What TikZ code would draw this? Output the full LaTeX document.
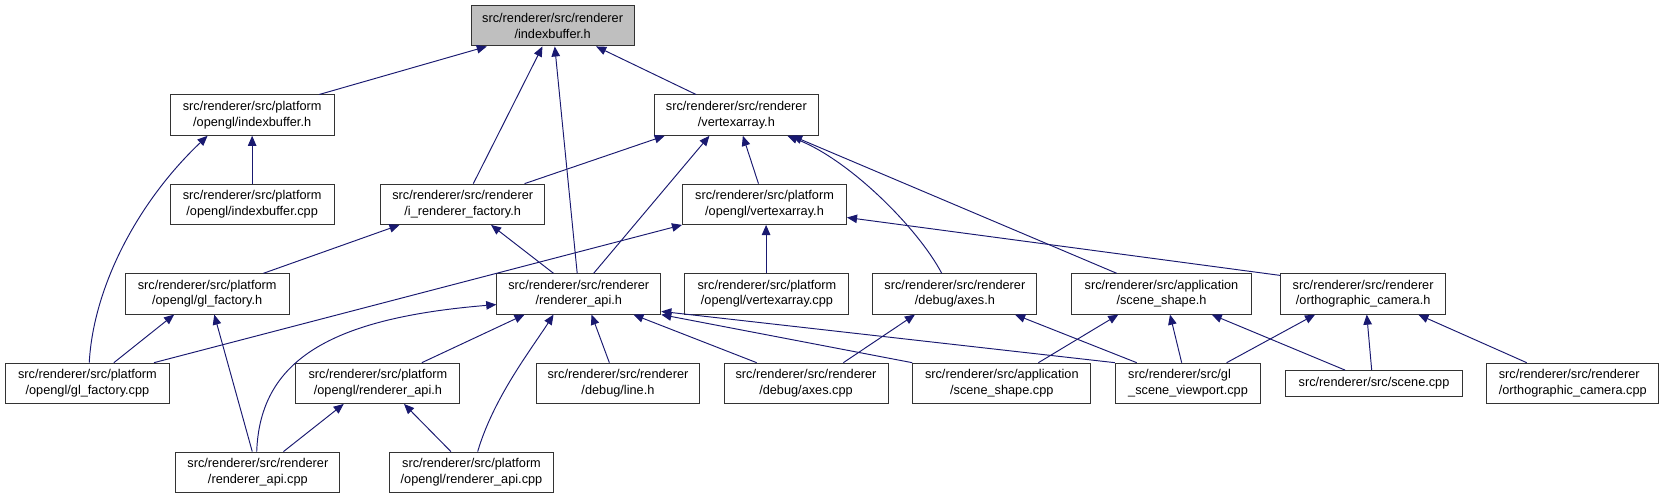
\documentclass[tikz,border=0pt]{standalone}
\usepackage{fontspec}
\setmainfont{Liberation Sans}
\usepackage{xcolor}
\usetikzlibrary{arrows.meta}
\definecolor{depblue}{RGB}{25,25,112}

\begin{document}
\begin{tikzpicture}[x=1pt, y=-1pt,
    file/.style={draw=black!80, line width=0.9pt, fill=white, minimum width=154.5pt, minimum height=38pt, inner sep=0pt, align=center, font=\fontsize{12}{14.6}\selectfont},
    mainfile/.style={file, fill=black!25},
    dep/.style={-{Triangle[length=9.5pt, width=8pt]}, color=depblue, line width=0.9pt}
]
    \useasboundingbox (0,0) rectangle (1568,470);

    \node[mainfile, minimum width=153.5pt] (ib_h) at (520.75,24.3) {src/renderer/src/renderer\\/indexbuffer.h};

    \node[file] (p_ib_h) at (237.6,108.5) {src/renderer/src/platform\\/opengl/indexbuffer.h};
    \node[file] (va_h) at (693.9,108.5) {src/renderer/src/renderer\\/vertexarray.h};

    \node[file] (p_ib_cpp) at (237.6,192.5) {src/renderer/src/platform\\/opengl/indexbuffer.cpp};
    \node[file] (irf_h) at (436,192.5) {src/renderer/src/renderer\\/i\_renderer\_factory.h};
    \node[file] (p_va_h) at (720.4,192.5) {src/renderer/src/platform\\/opengl/vertexarray.h};

    \node[file] (p_glf_h) at (195.2,277) {src/renderer/src/platform\\/opengl/gl\_factory.h};
    \node[file] (ra_h) at (545.4,277) {src/renderer/src/renderer\\/renderer\_api.h};
    \node[file] (p_va_cpp) at (722.7,277) {src/renderer/src/platform\\/opengl/vertexarray.cpp};
    \node[file] (axes_h) at (899.8,277) {src/renderer/src/renderer\\/debug/axes.h};
    \node[file, minimum width=169pt] (ss_h) at (1094.5,277) {src/renderer/src/application\\/scene\_shape.h};
    \node[file, minimum width=155pt] (oc_h) at (1284.5,277) {src/renderer/src/renderer\\/orthographic\_camera.h};

    \node[file] (p_glf_cpp) at (82.4,361.2) {src/renderer/src/platform\\/opengl/gl\_factory.cpp};
    \node[file] (p_ra_h) at (356.1,361.2) {src/renderer/src/platform\\/opengl/renderer\_api.h};
    \node[file] (line_h) at (582.3,361.2) {src/renderer/src/renderer\\/debug/line.h};
    \node[file] (axes_cpp) at (759.5,361.2) {src/renderer/src/renderer\\/debug/axes.cpp};
    \node[file, minimum width=168pt] (ss_cpp) at (944,361.2) {src/renderer/src/application\\/scene\_shape.cpp};
    \node[file, minimum width=137pt, align=left] (glsv_cpp) at (1119.5,361.2) {src/renderer/src/gl\\\_scene\_viewport.cpp};
    \node[file, minimum width=167.5pt, minimum height=24pt] (scene_cpp) at (1294.75,361.2) {src/renderer/src/scene.cpp};
    \node[file, minimum width=162pt, align=left] (oc_cpp) at (1482,361.2) {src/renderer/src/renderer\\/orthographic\_camera.cpp};

    \node[file] (ra_cpp) at (243,445) {src/renderer/src/renderer\\/renderer\_api.cpp};
    \node[file] (p_ra_cpp) at (444.3,445) {src/renderer/src/platform\\/opengl/renderer\_api.cpp};

    \draw[dep] ([xshift=63.2pt]p_ib_h.north) -- ([xshift=-62pt]ib_h.south);
    \draw[dep] ([xshift=10pt]irf_h.north) -- ([xshift=-9.6pt]ib_h.south);
    \draw[dep] ([xshift=-1.5pt]ra_h.north) -- ([xshift=2pt]ib_h.south);
    \draw[dep] ([xshift=-38pt]va_h.north) -- ([xshift=41pt]ib_h.south);

    \draw[dep] (p_ib_cpp) -- (p_ib_h);
    \draw[dep] ([xshift=1.7pt]p_glf_cpp.north) .. controls (88,270) and (130,190) .. ([xshift=-42pt]p_ib_h.south);

    \draw[dep] ([xshift=58.3pt]irf_h.north) -- ([xshift=-67.5pt]va_h.south);
    \draw[dep] ([xshift=14pt]ra_h.north) -- ([xshift=-25.4pt]va_h.south);
    \draw[dep] ([xshift=-5.7pt]p_va_h.north) -- ([xshift=6.1pt]va_h.south);
    \draw[dep] ([xshift=-12.4pt]axes_h.north) .. controls (865,215) and (800,150) .. ([xshift=48pt]va_h.south);
    \draw[dep] ([xshift=-42.2pt]ss_h.north) -- ([xshift=52.4pt]va_h.south);

    \draw[dep] ([xshift=62.7pt]p_glf_cpp.north) -- (p_va_h.south west);
    \draw[dep] ([xshift=-0.8pt]p_va_cpp.north) -- ([xshift=1.5pt]p_va_h.south);
    \draw[dep] ([yshift=-2pt]oc_h.north west) -- ([yshift=7pt]p_va_h.south east);

    \draw[dep] ([xshift=53pt]p_glf_h.north) -- ([xshift=-59.5pt]irf_h.south);
    \draw[dep] ([xshift=-23.8pt]ra_h.north) -- ([xshift=26.7pt]irf_h.south);

    \draw[dep] ([xshift=24.9pt]p_glf_cpp.north) -- ([xshift=-31.1pt]p_glf_h.south);
    \draw[dep] ([xshift=-5.3pt]ra_cpp.north) -- ([xshift=6.7pt]p_glf_h.south);

    \draw[dep] ([xshift=-1.1pt]ra_cpp.north) .. controls (245,340) and (310,300) .. ([yshift=-10pt]ra_h.west);
    \draw[dep] ([xshift=41.4pt]p_ra_h.north) -- ([xshift=-51.1pt]ra_h.south);
    \draw[dep] ([xshift=5.8pt]p_ra_cpp.north) .. controls (465,375) and (500,330) .. ([xshift=-23.8pt]ra_h.south);
    \draw[dep] ([xshift=-8.1pt]line_h.north) -- ([xshift=12pt]ra_h.south);
    \draw[dep] ([xshift=-46.5pt]axes_cpp.north) -- ([xshift=51.4pt]ra_h.south);
    \draw[dep] (ss_cpp.north west) -- (ra_h.south east);
    \draw[dep] (glsv_cpp.north west) -- ([yshift=3pt]ra_h.south east);

    \draw[dep] ([xshift=35.2pt]axes_cpp.north) -- ([xshift=-37.6pt]axes_h.south);
    \draw[dep] ([xshift=-48.4pt]glsv_cpp.north) -- ([xshift=56.7pt]axes_h.south);

    \draw[dep] ([xshift=34.5pt]ss_cpp.north) -- ([xshift=-40.7pt]ss_h.south);
    \draw[dep] ([xshift=-6pt]glsv_cpp.north) -- ([xshift=8pt]ss_h.south);
    \draw[dep] ([xshift=-27.3pt]scene_cpp.north) -- ([xshift=47.3pt]ss_h.south);

    \draw[dep] ([xshift=36.4pt]glsv_cpp.north) -- ([xshift=-45.3pt]oc_h.south);
    \draw[dep] ([xshift=-2.2pt]scene_cpp.north) -- ([xshift=3.4pt]oc_h.south);
    \draw[dep] ([xshift=-43.4pt]oc_cpp.north) -- ([xshift=52pt]oc_h.south);

    \draw[dep] ([xshift=24.1pt]ra_cpp.north) -- ([xshift=-32.2pt]p_ra_h.south);
    \draw[dep] ([xshift=-19.4pt]p_ra_cpp.north) -- ([xshift=24.6pt]p_ra_h.south);

\end{tikzpicture}
\end{document}
